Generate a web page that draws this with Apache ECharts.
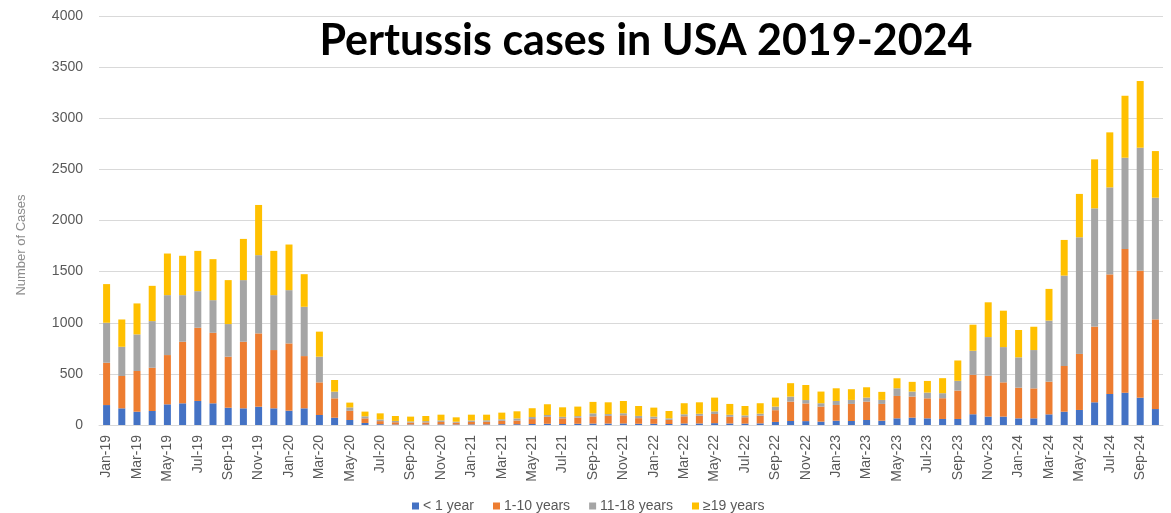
<!DOCTYPE html>
<html>
<head>
<meta charset="utf-8">
<script src="https://cdn.jsdelivr.net/npm/echarts@6/dist/echarts.min.js"></script>
<style>
  html, body { margin: 0; padding: 0; background: #fff; }
  #chart { width: 1171px; height: 513px; }
</style>
</head>
<body>
<div id="chart"></div>
<script>
// Monthly pertussis cases by age group, Jan 2019 – Oct 2024
const monthNames = ['Jan','Feb','Mar','Apr','May','Jun','Jul','Aug','Sep','Oct','Nov','Dec'];
const years = ['19','20','21','22','23','24'];
const lastMonthIndex = 9; // data run through Oct-24
const categories = [];
years.forEach((yy, yi) => {
  monthNames.forEach((m, mi) => {
    if (yi < years.length - 1 || mi <= lastMonthIndex) categories.push(m + '-' + yy);
  });
});

const seriesNames = ['< 1 year', '1-10 years', '11-18 years', '≥19 years'];

const under1 = [
  195,163,130,137,202,212,235,212,169,163,179,163,
  140,163,98,71,49,20,8,5,5,5,6,5,
  6,6,8,8,10,12,10,12,14,14,15,12,
  12,10,15,15,18,15,14,16,30,39,38,33,
  42,39,49,42,65,72,65,59,59,105,82,82,
  65,65,104,130,147,222,303,316,267,156
];
const age1to10 = [
  414,316,398,423,482,602,716,690,499,651,717,570,
  658,511,319,190,90,45,30,22,18,20,24,17,
  24,26,33,36,48,68,55,60,70,75,80,55,
  50,40,70,75,90,65,62,75,115,190,173,147,
  154,167,180,164,219,206,196,203,278,386,399,335,
  300,293,320,447,548,740,1170,1405,1242,877
];
const age11to18 = [
  391,286,358,456,586,456,358,319,319,603,765,537,
  521,482,251,65,33,20,16,13,12,13,15,10,
  14,14,15,20,20,18,15,15,30,18,20,22,
  20,15,20,20,25,20,18,20,35,49,33,33,
  39,39,39,39,75,49,56,49,95,235,379,345,
  297,375,597,884,1141,1157,851,893,1203,1190
];
const age19plus = [
  378,267,303,345,407,385,394,401,430,403,491,433,
  446,319,245,114,47,46,60,48,47,50,56,43,
  57,55,65,70,86,105,93,93,112,115,120,97,
  88,72,108,112,135,106,92,102,88,131,147,114,
  124,105,101,79,98,95,114,147,199,255,340,356,
  267,228,310,349,424,479,538,606,652,456
];

const yTicks = { min: 0, max: 4000, interval: 500 };
const colors = ['#4472C4', '#ED7D31', '#A5A5A5', '#FFC000'];
const seriesValues = [under1, age1to10, age11to18, age19plus];

const chart = echarts.init(document.getElementById('chart'), null, { renderer: 'canvas' });

const axisFont = '"Liberation Sans", Arial, sans-serif';

chart.setOption({
  animation: false,
  backgroundColor: '#ffffff',
  color: colors,
  grid: { left: 99, right: 8, top: 16, bottom: 88, containLabel: false },
  legend: {
    data: seriesNames,
    left: 407,
    top: 494,
    itemWidth: 7,
    itemHeight: 7,
    itemGap: 19,
    icon: 'rect',
    textStyle: { fontSize: 14, color: '#595959', fontFamily: axisFont, padding: [0, 0, 0, -1] }
  },
  xAxis: {
    type: 'category',
    data: categories,
    axisLine: { show: true, lineStyle: { color: '#d9d9d9', width: 1 } },
    axisTick: { show: false },
    axisLabel: {
      interval: 1,
      rotate: 90,
      margin: 10,
      fontSize: 14,
      color: '#595959',
      fontFamily: axisFont
    }
  },
  yAxis: {
    type: 'value',
    min: yTicks.min,
    max: yTicks.max,
    interval: yTicks.interval,
    axisLine: { show: false },
    axisTick: { show: false },
    axisLabel: {
      margin: 16,
      fontSize: 14,
      color: '#595959',
      fontFamily: axisFont,
      formatter: (v) => String(v)
    },
    splitLine: { lineStyle: { color: '#d9d9d9', width: 1 } }
  },
  graphic: [
    {
      type: 'text',
      x: 646,
      y: 41,
      style: {
        text: 'Pertussis cases in USA 2019-2024',
        font: 'bold 43px Lato, "Liberation Sans", sans-serif',
        fill: '#000000',
        textAlign: 'center',
        textVerticalAlign: 'middle',
        align: 'center',
        verticalAlign: 'middle'
      }
    },
    {
      type: 'text',
      x: 21,
      y: 245,
      rotation: Math.PI / 2,
      style: {
        text: 'Number of Cases',
        font: '13px "Liberation Sans", Arial, sans-serif',
        fill: '#8c8c8c',
        textAlign: 'center',
        textVerticalAlign: 'middle',
        align: 'center',
        verticalAlign: 'middle'
      }
    }
  ],
  series: seriesNames.map((name, i) => ({
    name: name,
    type: 'bar',
    stack: 'cases',
    barWidth: 7,
    data: seriesValues[i],
    itemStyle: { color: colors[i] }
  }))
});
</script>
</body>
</html>
